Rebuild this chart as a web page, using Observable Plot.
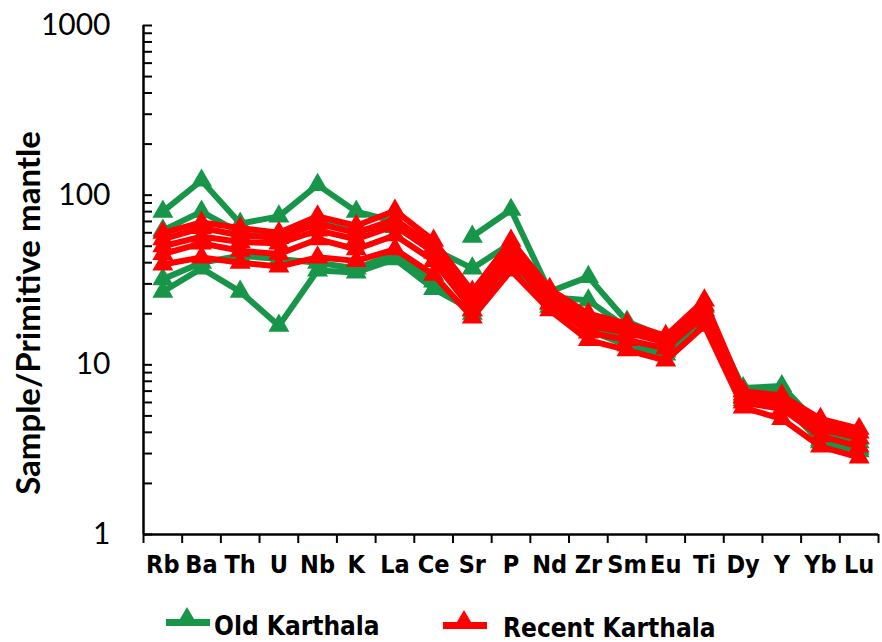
<!DOCTYPE html>
<html><head><meta charset="utf-8">
<script src="https://cdn.jsdelivr.net/npm/d3@7"></script>
<script src="https://cdn.jsdelivr.net/npm/@observablehq/plot@0.6"></script>
<style>
body{margin:0;background:#fff;}
#wrap{position:relative;width:882px;height:642px;overflow:hidden;background:#fff;}
.leg{position:absolute;font-family:"Liberation Sans Narrow","Arial Narrow","DejaVu Sans Condensed",sans-serif;font-weight:bold;font-size:26px;line-height:26px;color:#000;white-space:nowrap;}
.mk{position:absolute;}
</style></head><body><div id="wrap"></div>
<script>
// Trace elements (x categories)
const elements = ["Rb","Ba","Th","U","Nb","K","La","Ce","Sr","P","Nd","Zr","Sm","Eu","Ti","Dy","Y","Yb","Lu"];
// y axis tick values
const yMajor = [1, 10, 100, 1000];
const yMinor = [2,3,4,5,6,7,8,9,20,30,40,50,60,70,80,90,200,300,400,500,600,700,800,900];

// Old Karthala samples (sample / primitive mantle); null = not analysed
const oldK1 = [80, 122, 68, 75, 115, 80, 70, null, 57, 82, 27, 33, 18, 14.5, 22, 7.3, 7.5, 4.3, 3.7];
const oldK2 = [62, 80, 60, 58, 70, 62, 65, 48, 37, 52, 25, 24, 16.5, 13.5, 21, 7.0, 7.2, 4.0, 3.5];
const oldK3 = [27, 37, 27, 17, 36, 35, 42, 28, 21, 40, 23, 17, 14, 12, 19, 6.5, 6.3, 3.6, 3.2];
const oldK4 = [32, 40, 44, 42, 40, 37, 45, 31, 20, 38, 22, 16, 13, 11.5, 18, 6.2, 6.0, 3.5, 3.1];

// Recent Karthala samples
const recK1 = [60, 69, 64, 60, 75, 66, 81, 54, 27, 54, 28, 20, 17.5, 14.8, 24, 7.0, 6.6, 4.8, 4.2];
const recK2 = [55, 64, 58, 56, 68, 60, 72, 50, 24, 50, 26, 18.5, 16.5, 14, 22.5, 6.7, 6.3, 4.5, 4.0];
const recK3 = [50, 57, 53, 52, 62, 55, 66, 46, 23, 46, 25, 17, 15.5, 13.5, 21, 6.4, 6.0, 4.2, 3.7];
const recK4 = [45, 52, 47, 45, 55, 48, 58, 41, 21, 42, 23, 15.5, 14, 12.5, 19.5, 6.0, 5.5, 3.8, 3.3];
const recK5 = [39, 43, 40, 38, 43, 41, 48, 34, 19, 36, 21, 14, 12.2, 10.6, 17, 5.6, 4.8, 3.3, 2.85];

const groups = ["Old Karthala", "Recent Karthala"];
const oldSeries = [oldK1, oldK2, oldK3, oldK4];
const recSeries = [recK1, recK2, recK3, recK4, recK5];
const yTitle = ["Sample/Primitive mantle"];

const GREEN = "#17964a", RED = "#ff0000";

function tidy(seriesList, prefix) {
  const rows = [];
  seriesList.forEach((s, k) => s.forEach((v, i) => rows.push({series: prefix + k, i, el: elements[i], v})));
  return rows;
}
const oldRows = tidy(oldSeries, "old");
const recRows = tidy(recSeries, "rec");

const xc = d => d.i + 0.5;
const narrow = '"Liberation Sans Narrow","Arial Narrow","DejaVu Sans Condensed",sans-serif';

const chart = Plot.plot({
  width: 882, height: 595,
  marginLeft: 143, marginRight: 4, marginTop: 25, marginBottom: 61,
  style: {background: "white", overflow: "visible"},
  x: {type: "linear", domain: [0, elements.length]},
  y: {type: "log", domain: [1, 1000]},
  marks: [
    Plot.axisY({ticks: yMinor.concat(yMajor), tickSize: -9, tickFormat: () => "", strokeWidth: 2, label: null}),
    Plot.axisY({ticks: yMajor, tickSize: 0, tickPadding: 33, tickFormat: d => String(d), fontSize: 30, fontFamily: "Lato", fill: "#000", label: null}),
    Plot.axisX({ticks: d3.range(0, elements.length + 1), tickSize: 9, tickFormat: () => "", strokeWidth: 2, label: null}),
    Plot.axisX({ticks: elements.map((e, i) => i + 0.5), tickSize: 0, tickPadding: 21, tickFormat: d => elements[Math.floor(d)], fontSize: 25, fontWeight: "bold", fontFamily: narrow, fill: "#000", label: null}),
    Plot.text(yTitle, {frameAnchor: "left", textAnchor: "middle", lineAnchor: "middle", rotate: -90, dx: -114, dy: 33, fontSize: 33, fontWeight: "bold", fontFamily: "Lato", fill: "#000", text: d => d}),
    Plot.line(oldRows, {x: xc, y: "v", z: "series", stroke: GREEN, strokeWidth: 6, strokeLinejoin: "miter"}),
    Plot.dot(oldRows, {x: xc, y: "v", symbol: "triangle", r: 7.8, fill: GREEN}),
    Plot.line(recRows, {x: xc, y: "v", z: "series", stroke: RED, strokeWidth: 6, strokeLinejoin: "miter"}),
    Plot.dot(recRows, {x: xc, y: "v", symbol: "triangle", r: 7.8, fill: RED}),
    Plot.ruleX([0], {strokeWidth: 2.5, stroke: "#000"}),
    Plot.ruleY([1], {strokeWidth: 2.5, stroke: "#000"})
  ]
});

const wrap = document.getElementById("wrap");
chart.style.position = "absolute";
chart.style.left = "0px";
chart.style.top = "0px";
wrap.appendChild(chart);

// Legend
const legendItems = [
  {name: groups[0], color: GREEN, mkLeft: 163, mkTop: 604, txtLeft: 214, txtTop: 613},
  {name: groups[1], color: RED, mkLeft: 440, mkTop: 607, txtLeft: 503, txtTop: 615}
];
legendItems.forEach(it => {
  const svg = d3.create("svg").attr("class", "mk").attr("width", 50).attr("height", 28)
    .style("left", it.mkLeft + "px").style("top", it.mkTop + "px");
  svg.append("rect").attr("x", 3).attr("y", 15).attr("width", 44).attr("height", 7).attr("fill", it.color);
  svg.append("path").attr("d", "M24,3 L34,20 L14,20 Z").attr("fill", it.color);
  wrap.appendChild(svg.node());
  const t = document.createElement("div");
  t.className = "leg";
  t.style.left = it.txtLeft + "px";
  t.style.top = it.txtTop + "px";
  t.textContent = it.name;
  wrap.appendChild(t);
});
</script>
</body></html>
